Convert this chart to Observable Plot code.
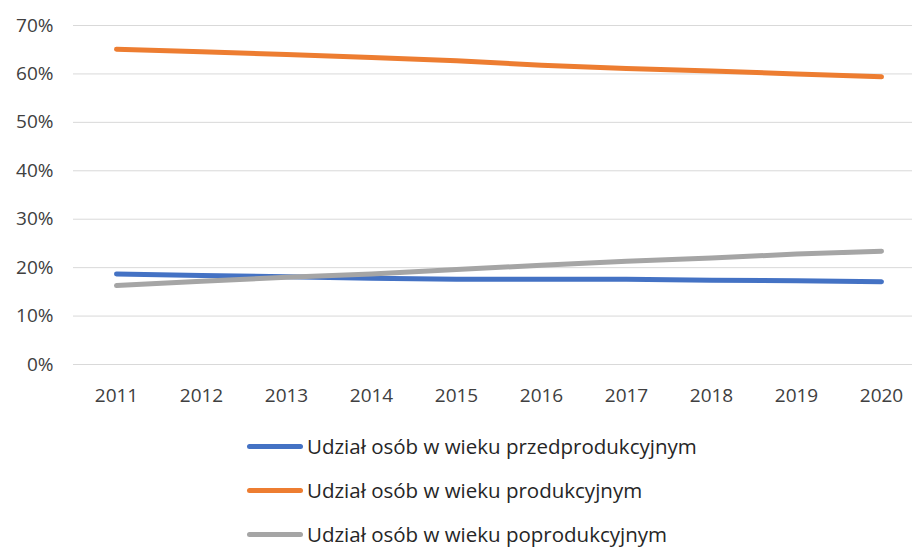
<!DOCTYPE html>
<html>
<head>
<meta charset="utf-8">
<script src="https://cdn.jsdelivr.net/npm/d3@7"></script>
<script src="https://cdn.jsdelivr.net/npm/@observablehq/plot@0.6"></script>
<style>
  body { margin: 0; background: #fff; font-family: "Open Sans", sans-serif; }
  #legend { padding-top: 4px; }
  .row { height: 44px; display: flex; align-items: center; padding-left: 247px; font-size: 20.5px; color: #262626; }
  .sw { width: 56px; height: 5px; border-radius: 3px; margin-right: 4px; }
</style>
</head>
<body>
<div id="chart"></div>
<div id="legend"></div>
<script>
const years = [2011, 2012, 2013, 2014, 2015, 2016, 2017, 2018, 2019, 2020];
const seriesNames = [
  "Udział osób w wieku przedprodukcyjnym",
  "Udział osób w wieku produkcyjnym",
  "Udział osób w wieku poprodukcyjnym"
];
const przed = [18.7, 18.4, 18.1, 17.8, 17.6, 17.6, 17.6, 17.4, 17.3, 17.1];
const prod = [65.1, 64.6, 64.0, 63.4, 62.7, 61.8, 61.1, 60.6, 60.0, 59.4];
const popr = [16.3, 17.2, 18.0, 18.7, 19.6, 20.5, 21.3, 22.0, 22.8, 23.4];
const colors = ["#4472C4", "#ED7D31", "#A5A5A5"];
const yTicks = [0, 10, 20, 30, 40, 50, 60, 70];

const data = [];
[przed, prod, popr].forEach((arr, i) => arr.forEach((v, j) => data.push({year: years[j], value: v, series: seriesNames[i]})));

const chart = Plot.plot({
  width: 912,
  height: 420,
  marginLeft: 73,
  marginRight: 0,
  marginTop: 25,
  marginBottom: 56,
  style: {fontFamily: "Open Sans, sans-serif", fontSize: "19px", color: "#404040", background: "#fff"},
  x: {type: "point", domain: years, range: [115.5, 882], padding: 0, label: null},
  y: {domain: [0, 70], ticks: yTicks, tickFormat: d => d + "%", label: null},
  color: {domain: seriesNames, range: colors},
  marks: [
    Plot.ruleY(yTicks, {stroke: "#D9D9D9", strokeWidth: 1}),
    Plot.axisY({ticks: yTicks, tickFormat: d => d + "%", tickSize: 0, tickPadding: 20, fontSize: 19, fill: "#404040"}),
    Plot.axisX({tickSize: 0, tickPadding: 24, tickFormat: d => String(d), fontSize: 19, fill: "#404040"}),
    Plot.line(data, {x: "year", y: "value", z: "series", stroke: "series", strokeWidth: 5, strokeLinecap: "round", strokeLinejoin: "round"})
  ]
});
document.getElementById("chart").append(chart);

const legend = document.getElementById("legend");
seriesNames.forEach((name, i) => {
  const row = document.createElement("div");
  row.className = "row";
  const sw = document.createElement("div");
  sw.className = "sw";
  sw.style.background = colors[i];
  const t = document.createElement("span");
  t.textContent = name;
  row.append(sw, t);
  legend.append(row);
});
</script>
</body>
</html>
